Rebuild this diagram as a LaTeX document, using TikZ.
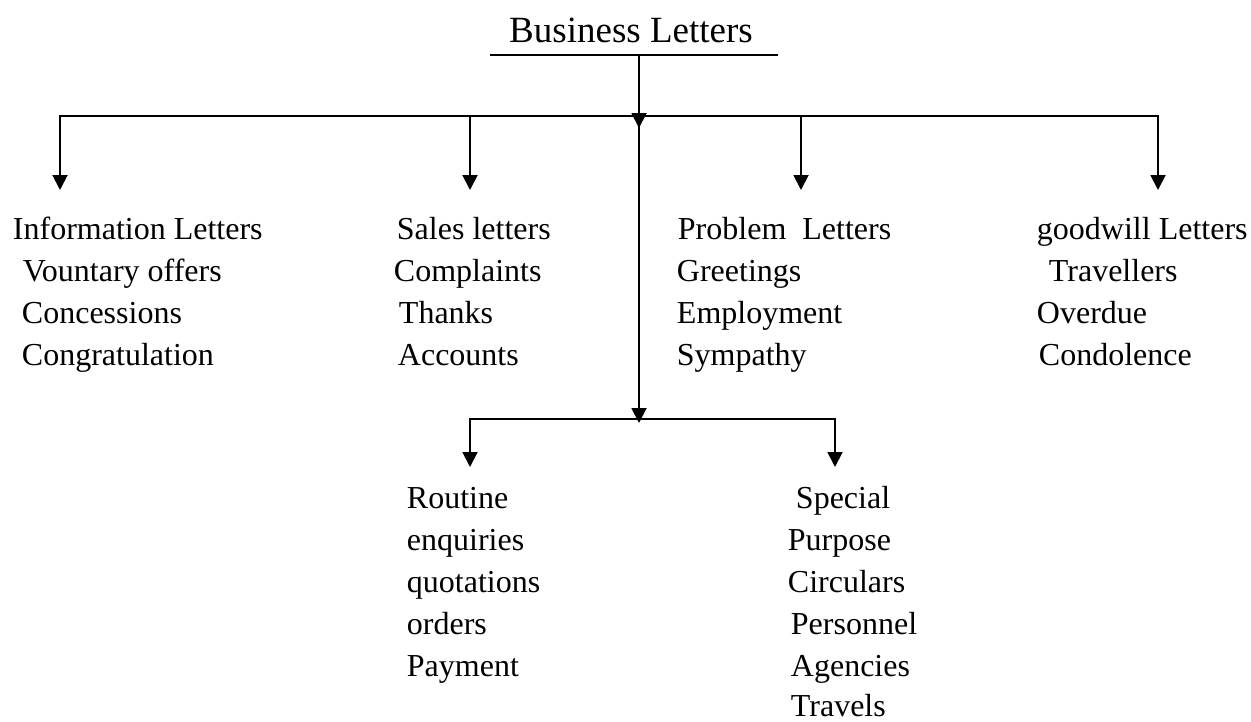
\documentclass[tikz,border=0pt]{standalone}
\usepackage{fontspec}
\setmainfont{Liberation Serif}
\usetikzlibrary{arrows.meta}

\begin{document}
\begin{tikzpicture}[x=1pt, y=-1pt, line width=1.9pt,
        item/.style={anchor=base west, inner sep=0pt, font=\fontsize{32}{38}\selectfont},
        head/.style={anchor=base, inner sep=0pt, font=\fontsize{37}{44}\selectfont},
        tip/.style={-{Triangle[width=15pt,length=15pt]}}]
        \useasboundingbox (0,0) rectangle (1251,721);

        % Title with its rule
        \node[head] (title) at (631,42) {Business Letters};
        \coordinate (ruleL) at (490,55);
        \coordinate (ruleR) at (778,55);
        \coordinate (top) at (639,55);
        \draw (ruleL) -- (ruleR);

        % Main bar and the four groups
        \coordinate (hub) at (639,116);
        \coordinate (hubtip) at (639,128);
        \draw[tip] (top) -- (hubtip);
        \coordinate (barL) at (60,116);
        \coordinate (barR) at (1158,116);
        \draw[line cap=rect] (barL) -- (barR);
        \foreach \n/\x in {info/60, sales/470, prob/801, good/1158} {
            \coordinate (\n top) at (\x,116);
            \coordinate (\n end) at (\x,190);
            \draw[tip] (\n top) -- (\n end);
        }

        % Lower bar and the two groups
        \coordinate (low) at (639,419);
        \coordinate (lowtip) at (639,423);
        \draw[tip] (hub) -- (lowtip);
        \coordinate (lowL) at (470,419);
        \coordinate (lowR) at (835,419);
        \draw[line cap=rect] (lowL) -- (lowR);
        \foreach \n/\x in {rout/470, spec/835} {
            \coordinate (\n top) at (\x,419);
            \coordinate (\n end) at (\x,467);
            \draw[tip] (\n top) -- (\n end);
        }

        % Texts under each arrow
        \foreach \n/\x/\y/\t in {
            info1/12/239/Information Letters,
            info2/22/281/Vountary offers,
            info3/21/323/Concessions,
            info4/21/365/Congratulation,
            sales1/396/239/Sales letters,
            sales2/393/281/Complaints,
            sales3/398/323/Thanks,
            sales4/397/365/Accounts,
            prob1/677/239/Problem\ \ Letters,
            prob2/676/281/Greetings,
            prob3/676/323/Employment,
            prob4/676/365/Sympathy,
            good1/1036/239/goodwill Letters,
            good2/1048/281/Travellers,
            good3/1036/323/Overdue,
            good4/1038/365/Condolence,
            rout1/406/508/Routine,
            rout2/406/550/enquiries,
            rout3/406/592/quotations,
            rout4/406/634/orders,
            rout5/406/676/Payment,
            spec1/795/508/Special,
            spec2/787/550/Purpose,
            spec3/787/592/Circulars,
            spec4/790/634/Personnel,
            spec5/790/676/Agencies,
            spec6/790/716/Travels
        } {
            \node[item] (\n) at (\x,\y) {\t};
        }
    \end{tikzpicture}
\end{document}
